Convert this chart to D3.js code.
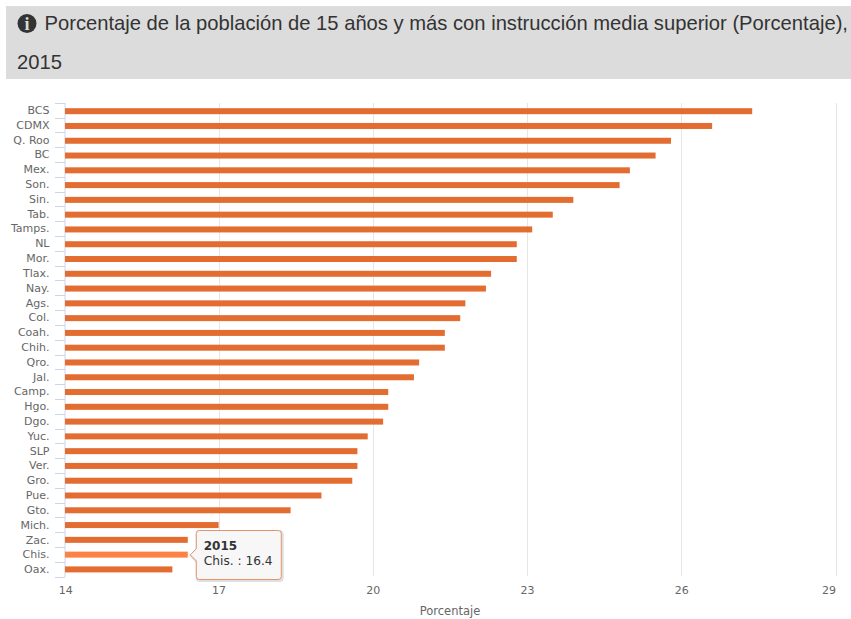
<!DOCTYPE html>
<html><head><meta charset="utf-8">
<script src="https://cdnjs.cloudflare.com/ajax/libs/d3/7.8.5/d3.min.js"></script>
<style>
html,body{margin:0;padding:0;background:#fff;overflow:hidden}
svg{display:block}
text{font-family:"DejaVu Sans",sans-serif}
</style></head><body>
<svg id="c" width="851" height="619"></svg>
<script>
const categories=["BCS","CDMX","Q. Roo","BC","Mex.","Son.","Sin.","Tab.","Tamps.","NL","Mor.","Tlax.","Nay.","Ags.","Col.","Coah.","Chih.","Qro.","Jal.","Camp.","Hgo.","Dgo.","Yuc.","SLP","Ver.","Gro.","Pue.","Gto.","Mich.","Zac.","Chis.","Oax."];
const values=[27.38,26.6,25.8,25.5,25.0,24.8,23.9,23.5,23.1,22.8,22.8,22.3,22.2,21.8,21.7,21.4,21.4,20.9,20.8,20.3,20.3,20.2,19.9,19.7,19.7,19.6,19.0,18.4,17.0,16.4,16.4,16.1];
const xTicks=[14,17,20,23,26,29];
const titleLines=["Porcentaje de la población de 15 años y más con instrucción media superior (Porcentaje),","2015"];
const axisTitle="Porcentaje";
const year="2015";
const hovered="Chis.";

const svg=d3.select("#c");
const m={l:65,r:835.5,t:103,b:577};
const x=d3.scaleLinear().domain([14,29]).range([64.4,m.r]);
const y=d3.scaleBand().domain(categories).range([m.t,m.b]);
const yBar=d3.scaleBand().domain(categories).range([m.t+1,m.b]);

// header
svg.append("rect").attr("x",6).attr("y",6).attr("width",845).attr("height",73).attr("fill","#dcdcdc");
svg.append("circle").attr("cx",27).attr("cy",23.5).attr("r",9.5).attr("fill","#333");
svg.append("text").attr("x",27).attr("y",30).attr("text-anchor","middle")
  .style("font-family","'Liberation Serif',serif").style("font-size","18px").style("font-weight","700").attr("fill","#dcdcdc").text("i");
svg.append("text").attr("x",44.5).attr("y",30).attr("fill","#333")
  .style("font-family","'Liberation Sans',Arial,sans-serif").style("font-size","20.2px").text(titleLines[0]);
svg.append("text").attr("x",17).attr("y",69).attr("fill","#333")
  .style("font-family","'Liberation Sans',Arial,sans-serif").style("font-size","20.2px").text(titleLines[1]);

// grid
svg.append("g").selectAll("line").data(xTicks.slice(1)).join("line")
  .attr("x1",d=>Math.round(x(d))+.5).attr("x2",d=>Math.round(x(d))+.5).attr("y1",m.t).attr("y2",m.b-1)
  .attr("stroke","#e6e6e6");

// x axis labels
const gx=svg.append("g").attr("transform",`translate(0,${m.b})`)
  .call(d3.axisBottom(x).tickValues(xTicks).tickSize(0).tickPadding(9).tickFormat(d3.format("d")));
gx.select(".domain").remove();
gx.selectAll("text").style("font-size","11px").style("font-family","'DejaVu Sans',sans-serif").attr("fill","#666");
gx.selectAll(".tick").filter(d=>d===xTicks[0]).select("text").attr("dx",.8);
gx.selectAll(".tick").filter(d=>d===xTicks[xTicks.length-1]).select("text").attr("text-anchor","end");

svg.append("text").attr("x",450).attr("y",615).attr("text-anchor","middle").attr("fill","#666")
  .style("font-size","11.5px").text(axisTitle);

// y axis
const gy=svg.append("g").attr("transform",`translate(${m.l-.5},0)`)
  .call(d3.axisLeft(y).tickSize(0).tickPadding(15));
gy.select(".domain").attr("stroke","#ccd6eb").attr("d",`M0.5,${m.t}V${m.b}`);
gy.selectAll("text").style("font-size","11px").style("font-family","'DejaVu Sans',sans-serif").attr("fill","#666");
const edges=categories.map(c=>y(c)).concat([m.b]);
svg.append("g").selectAll("line").data(edges).join("line")
  .attr("x1",m.l-10).attr("x2",m.l).attr("y1",d=>Math.round(d-.3)+.5).attr("y2",d=>Math.round(d-.3)+.5)
  .attr("stroke","#ccd6eb");

// bars
const barH=6;
svg.append("g").selectAll("rect").data(categories).join("rect")
  .attr("x",m.l).attr("y",c=>yBar(c)+yBar.bandwidth()/2-barH/2-.2)
  .attr("width",(c,i)=>x(values[i])-m.l).attr("height",barH)
  .attr("fill",c=>c===hovered?"#fd8245":"#e36c31");

// tooltip
const hi=categories.indexOf(hovered);
const hx=x(values[hi]), hy=yBar(hovered)+yBar.bandwidth()/2;
const tx=hx+8.5, ty=530.5, tw=85, th=49;
const tip=svg.append("g");
const path=`M${tx+3},${ty}H${tx+tw-3}Q${tx+tw},${ty} ${tx+tw},${ty+3}V${ty+th-3}Q${tx+tw},${ty+th} ${tx+tw-3},${ty+th}H${tx+3}Q${tx},${ty+th} ${tx},${ty+th-3}V${hy+6}L${tx-6},${hy}L${tx},${hy-6}V${ty+3}Q${tx},${ty} ${tx+3},${ty}Z`;
tip.append("path").attr("d",path).attr("transform","translate(1,1)").attr("fill","none").attr("stroke","#000").attr("stroke-opacity",.12).attr("stroke-width",3);
tip.append("path").attr("d",path).attr("fill","#f7f7f7").attr("fill-opacity",.95).attr("stroke","#e3946a").attr("stroke-width",1);
tip.append("text").attr("x",tx+7.5).attr("y",550).attr("fill","#333").style("font-size","12px").style("font-weight","700").text(year);
tip.append("text").attr("x",tx+7.5).attr("y",565).attr("fill","#333").style("font-size","12.2px").text(`${hovered} : ${values[hi]}`);
</script></body></html>
